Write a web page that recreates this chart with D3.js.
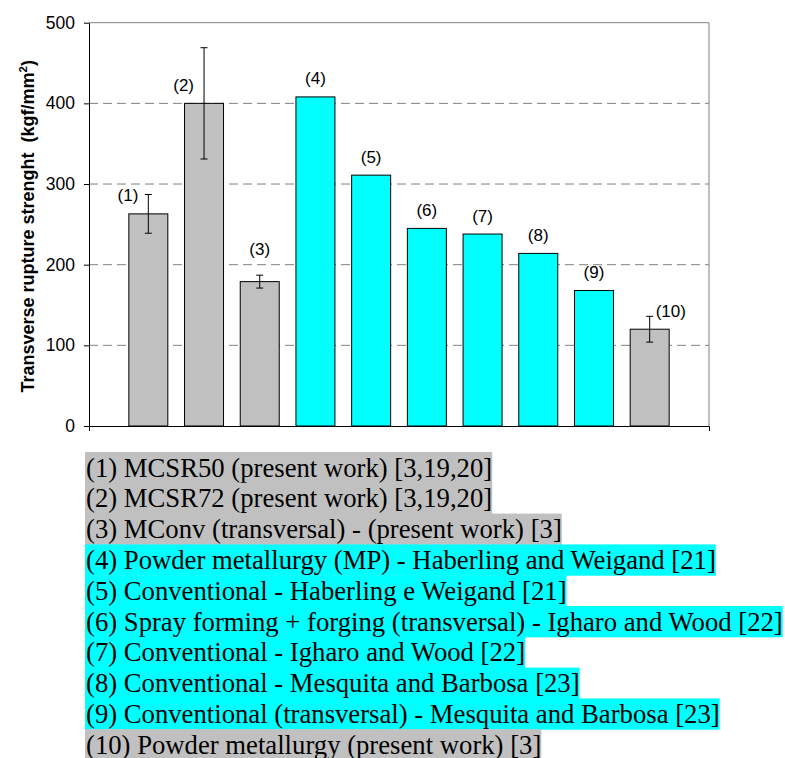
<!DOCTYPE html>
<html>
<head>
<meta charset="utf-8">
<script src="https://cdn.jsdelivr.net/npm/d3@7/dist/d3.min.js"></script>
<style>
  html, body { margin: 0; padding: 0; background: #ffffff; }
  svg { display: block; }
</style>
</head>
<body>
<svg id="chart" width="785" height="758"></svg>
<script>
// Transverse rupture strength of the studied steels compared with literature values
const categories = ["(1)", "(2)", "(3)", "(4)", "(5)", "(6)", "(7)", "(8)", "(9)", "(10)"];
const strength   = [263, 400, 179, 408, 311, 245, 238, 214, 168, 120];   // kgf/mm²
const errorBars  = [24, 69, 8, 0, 0, 0, 0, 0, 0, 16];                    // ± kgf/mm²
const source     = ["present", "present", "present", "literature", "literature",
                    "literature", "literature", "literature", "literature", "present"];
const labelSide  = ["left", "left", "center", "center", "center",
                    "center", "center", "center", "center", "right"];
const yTicks     = [0, 100, 200, 300, 400, 500];
const gridValues = [100, 200, 300, 400];
const legendLabels = [
  "(1) MCSR50 (present work) [3,19,20]",
  "(2) MCSR72 (present work) [3,19,20]",
  "(3) MConv (transversal) - (present work) [3]",
  "(4) Powder metallurgy (MP) - Haberling and Weigand [21]",
  "(5) Conventional - Haberling e Weigand [21]",
  "(6) Spray forming + forging (transversal) - Igharo and Wood [22]",
  "(7) Conventional - Igharo and Wood [22]",
  "(8) Conventional - Mesquita and Barbosa [23]",
  "(9) Conventional (transversal) - Mesquita and Barbosa [23]",
  "(10) Powder metallurgy (present work) [3]"
];

const palette = { present: "#c0c0c0", literature: "#00ffff" };
const sansFont = "Arial, 'Liberation Sans', sans-serif";
const serifFont = "'Times New Roman', 'Liberation Serif', serif";

const svg = d3.select("#chart");

const plot = { left: 89, right: 709, top: 22.7, bottom: 426 };

const x = d3.scaleBand()
  .domain(categories)
  .range([plot.left, plot.right])
  .paddingInner(0.3)
  .paddingOuter(0.715);

const y = d3.scaleLinear()
  .domain([0, 500])
  .range([plot.bottom, plot.top]);

// dashed horizontal gridlines
svg.append("g")
  .selectAll("line")
  .data(gridValues)
  .join("line")
  .attr("x1", plot.left)
  .attr("x2", plot.right)
  .attr("y1", d => y(d))
  .attr("y2", d => y(d))
  .attr("stroke", "#808080")
  .attr("stroke-width", 1)
  .attr("stroke-dasharray", "9,5");

// top and right frame of the plot area
svg.append("path")
  .attr("d", `M${plot.left},${y(500)}H${plot.right}V${plot.bottom}`)
  .attr("fill", "none")
  .attr("stroke", "#808080")
  .attr("stroke-width", 1);

// bars
const rows = categories.map((c, i) => ({
  cat: c, value: strength[i], err: errorBars[i], src: source[i], side: labelSide[i]
}));

svg.append("g")
  .selectAll("rect")
  .data(rows)
  .join("rect")
  .attr("x", d => x(d.cat))
  .attr("y", d => y(d.value))
  .attr("width", x.bandwidth())
  .attr("height", d => y(0) - y(d.value))
  .attr("fill", d => palette[d.src])
  .attr("stroke", "#000")
  .attr("stroke-width", 1);

// error bars
const errG = svg.append("g")
  .attr("stroke", "#000")
  .attr("stroke-width", 1);
rows.filter(d => d.err > 0).forEach(d => {
  const cx = x(d.cat) + x.bandwidth() / 2;
  const capHalf = 3.5;
  errG.append("line")
    .attr("x1", cx).attr("x2", cx)
    .attr("y1", y(d.value + d.err)).attr("y2", y(d.value - d.err));
  errG.append("line")
    .attr("x1", cx - capHalf).attr("x2", cx + capHalf)
    .attr("y1", y(d.value + d.err)).attr("y2", y(d.value + d.err));
  errG.append("line")
    .attr("x1", cx - capHalf).attr("x2", cx + capHalf)
    .attr("y1", y(d.value - d.err)).attr("y2", y(d.value - d.err));
});

// bar labels
svg.append("g")
  .selectAll("text")
  .data(rows)
  .join("text")
  .attr("x", d => {
    const cx = x(d.cat) + x.bandwidth() / 2;
    if (d.side === "left") return cx - 10;
    if (d.side === "right") return cx + 6;
    return cx;
  })
  .attr("y", d => {
    if (d.side === "center" && d.err > 0) return y(d.value + d.err) - 20;
    return y(d.value) - 12.5;
  })
  .attr("text-anchor", d => d.side === "left" ? "end" : d.side === "right" ? "start" : "middle")
  .attr("font-family", sansFont)
  .attr("font-size", 17)
  .attr("fill", "#000")
  .text(d => d.cat);

// y axis
const yAxis = svg.append("g")
  .attr("transform", `translate(${plot.left},0)`)
  .call(d3.axisLeft(y).tickValues(yTicks).tickSize(5).tickSizeOuter(0).tickPadding(9));
yAxis.select(".domain").attr("stroke", "#000");
yAxis.selectAll(".tick line").attr("stroke", "#000");
yAxis.selectAll(".tick text")
  .attr("font-family", sansFont)
  .attr("font-size", 17.5)
  .attr("fill", "#000");

// x axis (line only, no category ticks)
const xAxis = svg.append("g")
  .attr("transform", `translate(0,${plot.bottom})`)
  .call(d3.axisBottom(x).tickValues([]).tickSizeOuter(5));
xAxis.select(".domain").attr("stroke", "#000");

// y axis title
const yTitle = svg.append("text")
  .attr("transform", `translate(34,${(plot.top + plot.bottom) / 2 + 2}) rotate(-90)`)
  .attr("text-anchor", "middle")
  .attr("font-family", sansFont)
  .attr("font-size", 18)
  .attr("font-weight", "bold")
  .attr("fill", "#000");
yTitle.append("tspan").attr("xml:space", "preserve").text("Transverse rupture strenght  (kgf/mm");
yTitle.append("tspan").attr("font-size", 11.5).attr("dy", -7.5).text("2");
yTitle.append("tspan").attr("dy", 7.5).text(")");

// legend with highlighted rows
const legendTop = 452;
const rowH = 30.8;
const legend = svg.append("g");
legendLabels.forEach((label, i) => {
  const g = legend.append("g");
  const bg = g.append("rect")
    .attr("x", 85)
    .attr("y", legendTop + i * rowH)
    .attr("height", rowH + 0.5)
    .attr("fill", palette[source[i]]);
  const t = g.append("text")
    .attr("x", 86)
    .attr("y", legendTop + i * rowH + 24.5)
    .attr("font-family", serifFont)
    .attr("font-size", 26.7)
    .attr("fill", "#000")
    .text(label);
  bg.attr("width", t.node().getComputedTextLength() + 1);
});
</script>
</body>
</html>
